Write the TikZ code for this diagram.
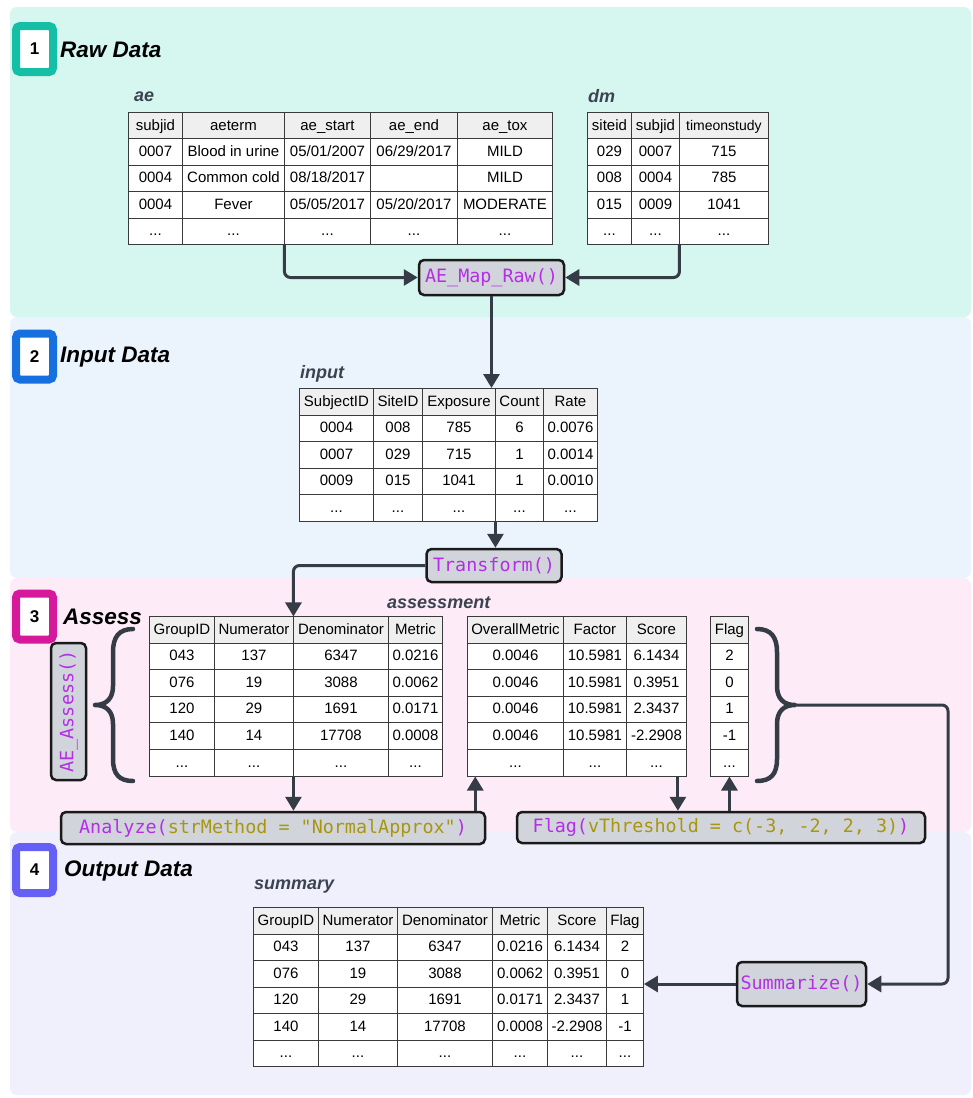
\documentclass[tikz,border=0pt]{standalone}
\usepackage{fontspec}
\setmainfont{Liberation Sans}
\newfontfamily\codefont{DejaVu Sans Mono}
\usetikzlibrary{matrix,arrows.meta,calc}
\definecolor{pA}{HTML}{D5F7F0}
\definecolor{pB}{HTML}{EBF3FD}
\definecolor{pC}{HTML}{FDEBF8}
\definecolor{pD}{HTML}{F0F0FD}
\definecolor{bA}{HTML}{14BFA6}
\definecolor{bB}{HTML}{1670E0}
\definecolor{bC}{HTML}{D6189A}
\definecolor{bD}{HTML}{6560F5}
\definecolor{connc}{HTML}{363C46}
\definecolor{fn}{HTML}{B52EE6}
\definecolor{argc}{HTML}{A8960F}
\definecolor{boxfill}{HTML}{D1D5DB}
\definecolor{boxline}{HTML}{1A1A1A}
\definecolor{hdr}{HTML}{EFEFEF}
\definecolor{tline}{HTML}{3A3A3A}
\definecolor{lbl}{HTML}{3B4250}
\newcommand\tabfont{\fontsize{15}{17}\selectfont}
\newcommand\headfont{\fontsize{22.5}{26}\selectfont\bfseries\itshape}
\newcommand\lblfont{\fontsize{18}{21}\selectfont\bfseries\itshape}
\newcommand\cdfont{\codefont\fontsize{18.4}{22}\selectfont}
\begin{document}
\begin{tikzpicture}[x=1pt,y=-1pt,
  badge/.style={draw=#1, fill=white, line width=8pt, rounded corners=4pt, minimum width=37pt, minimum height=46pt, inner sep=0pt, font=\fontsize{17}{20}\selectfont\bfseries},
  title/.style={anchor=west, inner sep=0pt, font=\headfont},
  tlabel/.style={anchor=west, inner sep=0pt, font=\lblfont, text=lbl},
  fbox/.style={draw=boxline, fill=boxfill, line width=2.5pt, rounded corners=5pt, inner sep=0pt, font=\cdfont, text=fn},
  conn/.style={draw=connc, line width=3pt, -{Triangle[length=14pt,width=16pt]}, rounded corners=6pt},
  bracestyle/.style={draw=connc, line width=4.5pt, line cap=round, line join=round},
  tbl/.style={matrix of nodes, nodes in empty cells, inner sep=0pt, outer sep=0pt, anchor=north west, column sep=-0.9pt, row sep=-0.9pt,
    nodes={draw=tline, line width=0.9pt, fill=white, inner sep=0pt, outer sep=0pt, anchor=center, minimum height=26.5pt, text height=10.8pt, text depth=2pt, font=\tabfont},
    row 1/.style={nodes={fill=hdr}}},
  colw/.style 2 args={column #1/.style={nodes={minimum width=#2}}}
]
\useasboundingbox (0,0) rectangle (973,1098);
% panels
\fill[pA, rounded corners=7pt] (10,7) rectangle (971,317);
\fill[pB, rounded corners=7pt] (10,317) rectangle (971,578);
\fill[pC, rounded corners=7pt] (10,578) rectangle (971,832);
\fill[pD, rounded corners=7pt] (10,832) rectangle (971,1095);
% badges and titles
\node[badge=bA] (b1) at (34.5,49) {1};
\node[badge=bB] (b2) at (34.5,356.5) {2};
\node[badge=bC] (b3) at (34.5,616.5) {3};
\node[badge=bD] (b4) at (34.5,870) {4};
\node[title] (t1) at (60,50) {Raw Data};
\node[title] (t2) at (60,357) {Input Data};
\node[title] (t3) at (63,617) {Assess};
\node[title] (t4) at (64,871) {Output Data};
% table labels
\node[tlabel] (lae) at (134,97) {ae};
\node[tlabel] (ldm) at (588,96) {dm};
\node[tlabel] (lin) at (300,374) {input};
\node[tlabel] (las) at (387,603) {assessment};
\node[tlabel] (lsu) at (254,887) {summary};
% ae table
\matrix[tbl, colw={1}{54pt}, colw={2}{102pt}, colw={3}{86pt}, colw={4}{87pt}, colw={5}{95pt}, nodes={minimum height=26.4pt}] (ae) at (128,112) {
subjid & aeterm & ae\_start & ae\_end & ae\_tox \\
0007 & Blood in urine & 05/01/2007 & 06/29/2017 & MILD \\
0004 & Common cold & 08/18/2017 & & MILD \\
0004 & Fever & 05/05/2017 & 05/20/2017 & MODERATE \\
... & ... & ... & ... & ... \\
};
% dm table
\matrix[tbl, colw={1}{44pt}, colw={2}{48pt}, colw={3}{89pt}, nodes={minimum height=26.4pt}] (dm) at (587,112) {
siteid & subjid & {\fontsize{14}{16}\selectfont timeonstudy} \\
029 & 0007 & 715 \\
008 & 0004 & 785 \\
015 & 0009 & 1041 \\
... & ... & ... \\
};
% function boxes
\node[fbox, minimum width=145pt, minimum height=35pt] (map) at (491.5,277.5) {AE\_Map\_Raw()};
\node[fbox, minimum width=135pt, minimum height=33pt] (tr) at (494,565.5) {Transform()};
\node[fbox, minimum width=424pt, minimum height=32pt] (an) at (273,828) {Analyze(\textcolor{argc}{strMethod = "NormalApprox"})};
\node[fbox, minimum width=408pt, minimum height=31pt] (fl) at (721,827.5) {Flag(\textcolor{argc}{vThreshold = c(-3, -2, 2, 3)})};
\node[fbox, minimum width=129pt, minimum height=44pt] (sm) at (801.5,984) {Summarize()};
\node[fbox, rotate=90, minimum width=137pt, minimum height=35pt] (ass) at (68.5,711.5) {AE\_Assess()};
% input table
\matrix[tbl, colw={1}{74pt}, colw={2}{49pt}, colw={3}{73pt}, colw={4}{48pt}, colw={5}{54pt}, nodes={minimum height=26.6pt}] (inp) at (299,388) {
SubjectID & SiteID & Exposure & Count & Rate \\
0004 & 008 & 785 & 6 & 0.0076 \\
0007 & 029 & 715 & 1 & 0.0014 \\
0009 & 015 & 1041 & 1 & 0.0010 \\
... & ... & ... & ... & ... \\
};
% assessment tables
\matrix[tbl, colw={1}{65pt}, colw={2}{79pt}, colw={3}{95pt}, colw={4}{54pt}, nodes={minimum height=26.6pt}] (as1) at (149,616) {
GroupID & Numerator & Denominator & Metric \\
043 & 137 & 6347 & 0.0216 \\
076 & 19 & 3088 & 0.0062 \\
120 & 29 & 1691 & 0.0171 \\
140 & 14 & 17708 & 0.0008 \\
... & ... & ... & ... \\
};
\matrix[tbl, colw={1}{96pt}, colw={2}{63pt}, colw={3}{60pt}, nodes={minimum height=26.6pt}] (as2) at (467,616) {
OverallMetric & Factor & Score \\
0.0046 & 10.5981 & 6.1434 \\
0.0046 & 10.5981 & 0.3951 \\
0.0046 & 10.5981 & 2.3437 \\
0.0046 & 10.5981 & -2.2908 \\
... & ... & ... \\
};
\matrix[tbl, colw={1}{38pt}, nodes={minimum height=26.6pt}] (ft) at (710,616) {
Flag \\
2 \\
0 \\
1 \\
-1 \\
... \\
};
% summary table
\matrix[tbl, colw={1}{65pt}, colw={2}{79pt}, colw={3}{95pt}, colw={4}{55pt}, colw={5}{59pt}, colw={6}{37pt}, nodes={minimum height=26.5pt}] (su) at (253,907) {
GroupID & Numerator & Denominator & Metric & Score & Flag \\
043 & 137 & 6347 & 0.0216 & 6.1434 & 2 \\
076 & 19 & 3088 & 0.0062 & 0.3951 & 0 \\
120 & 29 & 1691 & 0.0171 & 2.3437 & 1 \\
140 & 14 & 17708 & 0.0008 & -2.2908 & -1 \\
... & ... & ... & ... & ... & ... \\
};
% braces
\draw[bracestyle] (133,629) .. controls (119,629) and (113,637) .. (113,652) -- (113,686) .. controls (113,699) and (106,705) .. (95,705) .. controls (106,705) and (113,711) .. (113,724) -- (113,759) .. controls (113,774) and (119,781) .. (133,781);
\draw[bracestyle] (757,629) .. controls (771,629) and (777,637) .. (777,652) -- (777,686) .. controls (777,699) and (784,705) .. (795,705) .. controls (784,705) and (777,711) .. (777,724) -- (777,759) .. controls (777,774) and (771,781) .. (757,781);
\coordinate (rbtip) at (797,705);
\coordinate (rbturn) at (948,705);
% connectors
\draw[conn] (ae-5-3.south west) |- (map.west);
\draw[conn] (dm-5-3.south west) |- (map.east);
\draw[conn] (map.south) -- (map.south |- inp.north);
\draw[conn] (inp-5-4.south west) -- (inp-5-4.south west |- tr.north);
\draw[conn] (tr.west) -| (as1-1-3.north west);
\draw[conn] (as1-6-3.south west) -- (as1-6-3.south west |- an.north);
\draw[conn] ([xshift=-11pt]an.north east) -- ([xshift=-11pt]an.north east |- as2.south);
\draw[conn] ([xshift=-9pt]as2.south east) -- ([xshift=-9pt]as2.south east |- fl.north);
\draw[conn] (fl.north -| ft.south) -- (ft.south);
\draw[conn] (rbtip) -- (rbturn) |- (sm.east);
\draw[conn] (sm.west) -- (sm.west -| su.east);
\end{tikzpicture}
\end{document}
